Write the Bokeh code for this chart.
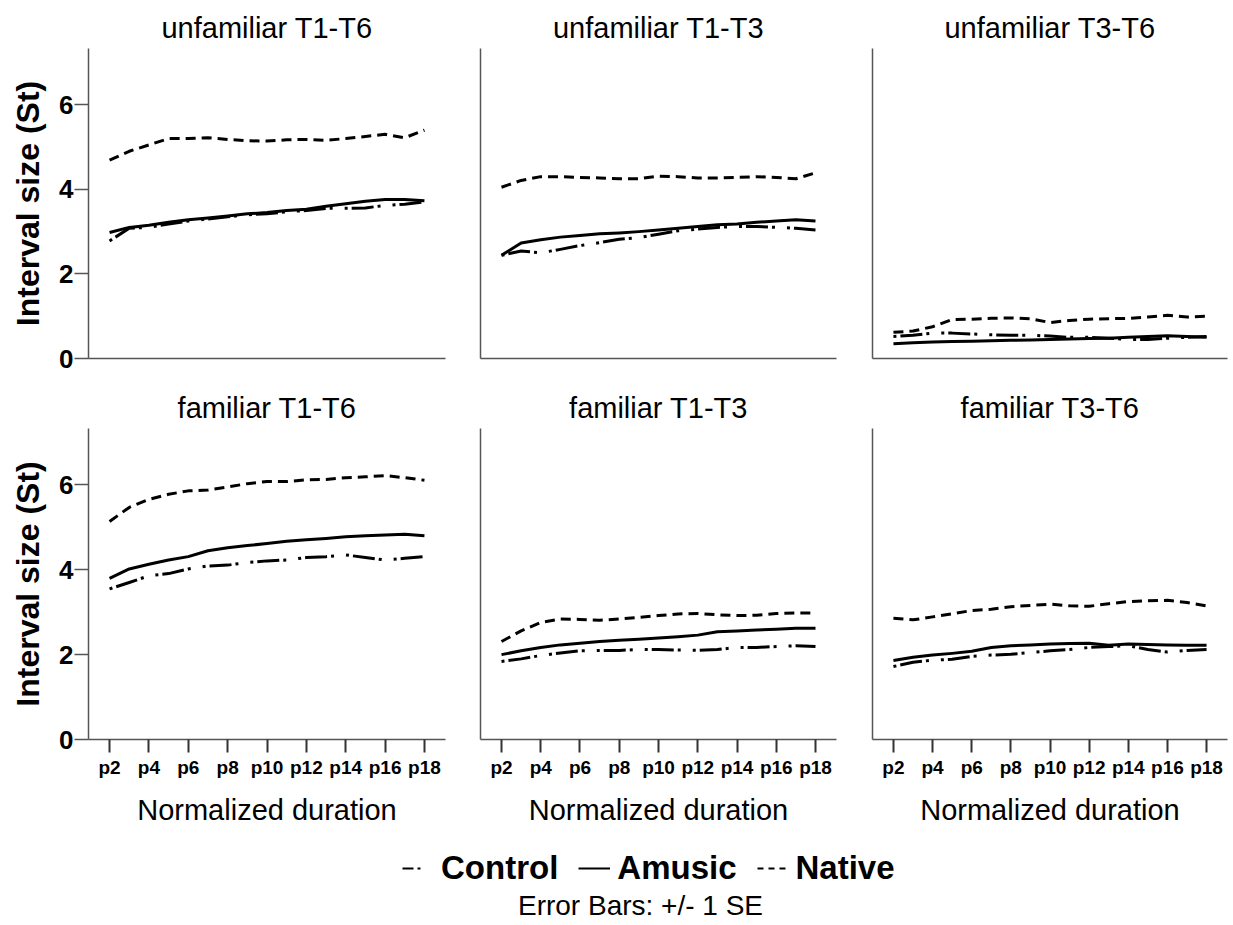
from bokeh.plotting import figure
from bokeh.layouts import column, row
from bokeh.models import Range1d, FixedTicker, Legend, LegendItem, Label
from bokeh.embed import file_html
from bokeh.resources import INLINE

# ---------------- data ----------------
positions = list(range(2, 19))                      # p2 .. p18
tick_positions = [2, 4, 6, 8, 10, 12, 14, 16, 18]
tick_labels = ["p2", "p4", "p6", "p8", "p10", "p12", "p14", "p16", "p18"]
y_ticks = [0, 2, 4, 6]
groups = ["Control", "Amusic", "Native"]

unf_t1t6_control = [2.78, 3.08, 3.10, 3.18, 3.25, 3.30, 3.35, 3.40, 3.42, 3.47, 3.50, 3.55, 3.55, 3.56, 3.62, 3.65, 3.70]
unf_t1t6_amusic = [2.98, 3.10, 3.15, 3.22, 3.28, 3.32, 3.37, 3.42, 3.45, 3.50, 3.53, 3.60, 3.66, 3.72, 3.76, 3.76, 3.73]
unf_t1t6_native = [4.69, 4.90, 5.05, 5.20, 5.20, 5.22, 5.18, 5.15, 5.14, 5.17, 5.18, 5.16, 5.20, 5.25, 5.30, 5.22, 5.40]

unf_t1t3_control = [2.44, 2.54, 2.50, 2.58, 2.67, 2.74, 2.82, 2.86, 2.94, 3.02, 3.06, 3.10, 3.12, 3.12, 3.10, 3.08, 3.04]
unf_t1t3_amusic = [2.44, 2.73, 2.81, 2.87, 2.91, 2.95, 2.97, 3.00, 3.04, 3.08, 3.12, 3.16, 3.18, 3.22, 3.25, 3.28, 3.25]
unf_t1t3_native = [4.05, 4.21, 4.30, 4.30, 4.28, 4.27, 4.25, 4.25, 4.31, 4.30, 4.27, 4.27, 4.28, 4.30, 4.28, 4.25, 4.39]

unf_t3t6_control = [0.52, 0.55, 0.60, 0.60, 0.58, 0.56, 0.55, 0.55, 0.53, 0.50, 0.50, 0.48, 0.45, 0.45, 0.48, 0.50, 0.52]
unf_t3t6_amusic = [0.35, 0.37, 0.39, 0.40, 0.41, 0.42, 0.43, 0.44, 0.45, 0.46, 0.47, 0.48, 0.50, 0.52, 0.54, 0.52, 0.50]
unf_t3t6_native = [0.62, 0.65, 0.75, 0.92, 0.93, 0.95, 0.96, 0.94, 0.85, 0.90, 0.93, 0.94, 0.95, 0.98, 1.02, 0.98, 1.00]

fam_t1t6_control = [3.55, 3.70, 3.86, 3.91, 4.02, 4.09, 4.11, 4.17, 4.21, 4.23, 4.29, 4.31, 4.35, 4.29, 4.23, 4.27, 4.31]
fam_t1t6_amusic = [3.80, 4.02, 4.13, 4.23, 4.31, 4.45, 4.52, 4.57, 4.62, 4.67, 4.71, 4.74, 4.78, 4.80, 4.82, 4.84, 4.80]
fam_t1t6_native = [5.14, 5.47, 5.66, 5.78, 5.86, 5.88, 5.95, 6.03, 6.08, 6.08, 6.12, 6.13, 6.17, 6.19, 6.22, 6.17, 6.11]

fam_t1t3_control = [1.84, 1.90, 1.98, 2.04, 2.09, 2.10, 2.10, 2.12, 2.12, 2.11, 2.10, 2.12, 2.17, 2.17, 2.19, 2.21, 2.19]
fam_t1t3_amusic = [2.00, 2.09, 2.17, 2.23, 2.27, 2.31, 2.34, 2.36, 2.39, 2.42, 2.46, 2.54, 2.56, 2.58, 2.60, 2.62, 2.62]
fam_t1t3_native = [2.31, 2.56, 2.76, 2.84, 2.83, 2.81, 2.84, 2.88, 2.92, 2.96, 2.97, 2.94, 2.92, 2.93, 2.97, 2.98, 2.98]

fam_t3t6_control = [1.72, 1.82, 1.87, 1.89, 1.96, 1.99, 2.01, 2.05, 2.09, 2.12, 2.17, 2.19, 2.21, 2.12, 2.06, 2.10, 2.12]
fam_t3t6_amusic = [1.86, 1.94, 1.99, 2.03, 2.08, 2.17, 2.21, 2.23, 2.25, 2.26, 2.27, 2.22, 2.25, 2.24, 2.23, 2.22, 2.22]
fam_t3t6_native = [2.86, 2.82, 2.89, 2.96, 3.04, 3.07, 3.13, 3.16, 3.19, 3.15, 3.14, 3.20, 3.25, 3.27, 3.28, 3.23, 3.15]

panel_titles = ["unfamiliar T1-T6", "unfamiliar T1-T3", "unfamiliar T3-T6",
                "familiar T1-T6", "familiar T1-T3", "familiar T3-T6"]
panel_series = [
    (unf_t1t6_control, unf_t1t6_amusic, unf_t1t6_native),
    (unf_t1t3_control, unf_t1t3_amusic, unf_t1t3_native),
    (unf_t3t6_control, unf_t3t6_amusic, unf_t3t6_native),
    (fam_t1t6_control, fam_t1t6_amusic, fam_t1t6_native),
    (fam_t1t3_control, fam_t1t3_amusic, fam_t1t3_native),
    (fam_t3t6_control, fam_t3t6_amusic, fam_t3t6_native),
]

# ---------------- styles ----------------
FONT = "Liberation Sans"
AXIS_COLOR = "#555555"
dashes = ["3 4 22 4 3 12", "solid", "10 6"]

col_widths = [462, 392, 379]
col_left = [88, 18, 18]
col_right = [17, 18, 6]


def make_panel(idx):
    r, c = divmod(idx, 3)
    height = 380 if r == 0 else 450
    bottom = 22 if r == 0 else 91
    p = figure(width=col_widths[c], height=height, output_backend="svg",
               toolbar_location=None,
               x_range=Range1d(0.93, 19.07), y_range=Range1d(0, 7.33),
               min_border_left=col_left[c], min_border_right=col_right[c],
               min_border_top=48, min_border_bottom=bottom)
    p.outline_line_color = None
    p.grid.visible = False
    p.background_fill_color = "white"
    p.border_fill_color = "white"

    p.title.text = panel_titles[idx]
    p.title.align = "center"
    p.title.text_font = FONT
    p.title.text_font_size = "29px"
    p.title.text_font_style = "normal"
    p.title.text_color = "black"
    p.title.standoff = 10

    ya = p.yaxis[0]
    ya.axis_line_color = AXIS_COLOR
    ya.axis_line_width = 1.5
    ya.minor_tick_line_color = None
    ya.major_tick_in = 0
    if c == 0:
        ya.ticker = FixedTicker(ticks=y_ticks)
        ya.major_tick_out = 14
        ya.major_tick_line_color = AXIS_COLOR
        ya.major_tick_line_width = 1.5
        ya.major_label_text_font = FONT
        ya.major_label_text_font_size = "26px"
        ya.major_label_text_font_style = "bold"
        ya.major_label_text_color = "black"
        ya.major_label_standoff = 1
        ya.axis_label = "Interval size (St)"
        ya.axis_label_text_font = FONT
        ya.axis_label_text_font_size = "32px"
        ya.axis_label_text_font_style = "bold"
        ya.axis_label_text_color = "black"
        ya.axis_label_standoff = 10
    else:
        ya.ticker = FixedTicker(ticks=[])
        ya.major_tick_out = 0
        ya.major_label_text_font_size = "0px"

    xa = p.xaxis[0]
    xa.axis_line_color = AXIS_COLOR
    xa.axis_line_width = 1.5
    xa.minor_tick_line_color = None
    xa.major_tick_in = 0
    if r == 1:
        xa.ticker = FixedTicker(ticks=tick_positions)
        xa.major_label_overrides = dict(zip(tick_positions, tick_labels))
        xa.major_tick_out = 13
        xa.major_tick_line_color = "#333333"
        xa.major_tick_line_width = 2
        xa.major_label_text_font = FONT
        xa.major_label_text_font_size = "19px"
        xa.major_label_text_font_style = "bold"
        xa.major_label_text_color = "black"
        xa.major_label_standoff = 4
        xa.axis_label = "Normalized duration"
        xa.axis_label_text_font = FONT
        xa.axis_label_text_font_size = "29px"
        xa.axis_label_text_font_style = "normal"
        xa.axis_label_text_color = "black"
        xa.axis_label_standoff = 13
    else:
        xa.ticker = FixedTicker(ticks=[])
        xa.major_tick_out = 0
        xa.major_label_text_font_size = "0px"

    for series, dash in zip(panel_series[idx], dashes):
        p.line(positions, series, line_color="black", line_width=3,
               line_dash=dash, line_join="round")
    return p


panels = [make_panel(i) for i in range(6)]

# ---------------- legend strip ----------------
leg = figure(width=1233, height=95, output_backend="svg", toolbar_location=None,
             x_range=Range1d(100, 200), y_range=Range1d(0, 1),
             x_axis_type=None, y_axis_type=None, min_border=0)
leg.outline_line_color = None
leg.grid.visible = False
legend_dashes = ["11 4 3 30", "solid", "6 5"]
items = []
for name, series, dash in zip(groups, panel_series[0], legend_dashes):
    rr = leg.line(positions, series, line_color="black", line_width=2, line_dash=dash)
    items.append(LegendItem(label=name, renderers=[rr]))

legend = Legend(items=items, orientation="horizontal", location=(402, 38),
                label_text_font=FONT, label_text_font_size="33px",
                label_text_font_style="bold", label_text_color="black",
                glyph_width=32, glyph_height=20, label_standoff=7, spacing=20,
                padding=0, margin=0, border_line_color=None,
                background_fill_alpha=0)
leg.add_layout(legend)

leg.add_layout(Label(x=640, y=20, x_units="screen", y_units="screen",
                     text="Error Bars: +/- 1 SE", text_font=FONT,
                     text_font_size="28px", text_align="center",
                     text_baseline="alphabetic", text_color="black"))

layout = column(row(*panels[:3]), row(*panels[3:]), leg)

with open("out.html", "w") as f:
    f.write(file_html(layout, INLINE))
